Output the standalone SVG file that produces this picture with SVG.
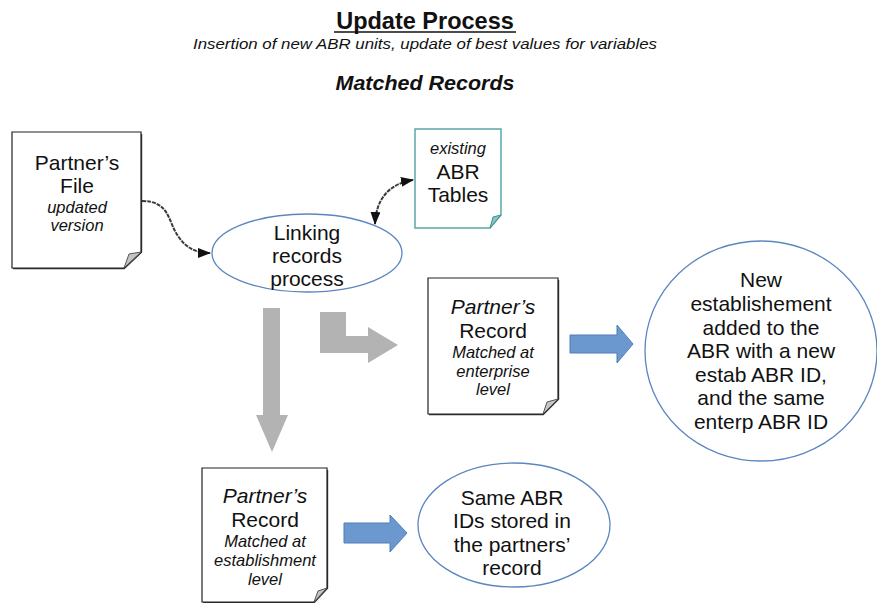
<svg xmlns="http://www.w3.org/2000/svg" width="877" height="603" viewBox="0 0 877 603">
  <defs>
    <marker id="ah" markerWidth="13" markerHeight="10" refX="12" refY="5" orient="auto" markerUnits="userSpaceOnUse">
      <path d="M0,0 L13,5 L0,10 Z" fill="#111"/>
    </marker>
    <marker id="ahs" markerWidth="13" markerHeight="10" refX="1" refY="5" orient="auto" markerUnits="userSpaceOnUse">
      <path d="M13,0 L0,5 L13,10 Z" fill="#111"/>
    </marker>
  </defs>
  <style>
    text { font-family: "Liberation Sans", Arial, sans-serif; fill: #111; text-anchor: middle; }
    .t20 { font-size: 21px; }
    .t15 { font-size: 16.5px; font-style: italic; }
    .it { font-style: italic; }
    .doc { fill: #fff; stroke: #222; stroke-width: 1.2; }
    .docsh { fill: none; stroke: #333; stroke-width: 2.4; }
    .fold { fill: #c4c4c4; stroke: #555; stroke-width: 1; }
    .tdoc { fill: #fff; stroke: #5aa7a7; stroke-width: 1.5; }
    .tfold { fill: #8cc4c4; stroke: #3d8f8f; stroke-width: 1; }
    .ell { fill: #fff; stroke: #5b86c0; stroke-width: 1.3; }
    .grey { fill: #b3b3b3; }
    .blue { fill: #6b99cf; stroke: #4f7fb8; stroke-width: 1; }
    .link { fill: none; stroke: #3a3a3a; stroke-width: 2; stroke-dasharray: 4 1; }
  </style>

  <!-- headings -->
  <g id="title">
    <text x="425" y="29" style="font-size:23.5px;font-weight:bold">Update Process</text>
    <line x1="334" y1="32" x2="516" y2="32" stroke="#111" stroke-width="1.5"/>
    <text x="425" y="49" style="font-size:15.5px;font-style:italic" textLength="464" lengthAdjust="spacingAndGlyphs">Insertion of new ABR units, update of best values for variables</text>
    <text x="425" y="90" style="font-size:21px;font-weight:bold;font-style:italic" textLength="179" lengthAdjust="spacingAndGlyphs">Matched Records</text>
  </g>

  <!-- connectors -->
  <g id="connectors">
    <path class="link" d="M142,201 C170,201 168,222 178,236 C186,248 196,253 210,253" marker-end="url(#ah)"/>
    <path class="link" d="M375,224 C376,200 388,184 413,180" marker-start="url(#ahs)" marker-end="url(#ah)"/>
    <!-- straight grey arrow down -->
    <path class="grey" d="M263,308 H280 V415 H288 L272,452 L256,415 H263 Z"/>
    <!-- bent grey arrow -->
    <path class="grey" d="M320,312 H346 V336 H368 V327 L398,345 L368,363 V353 H320 Z"/>
    <!-- blue arrows -->
    <path class="blue" d="M570,335 H617 V325 L633,344 L617,363 V353 H570 Z"/>
    <path class="blue" d="M344,523 H390 V515 L407,533 L390,552 V543 H344 Z"/>
  </g>

  <!-- Partner's File -->
  <g id="partners-file">
    <path class="docsh" d="M141,134 V252 L124,268 H13"/>
    <path class="doc" d="M12,132 H141 V252 L124,268 H12 Z"/>
    <path class="fold" d="M141,252 L124,268 L129,254 Z"/>
    <text class="t20" x="77" y="170">Partner’s</text>
    <text class="t20" x="77" y="193">File</text>
    <text class="t15" x="77" y="213">updated</text>
    <text class="t15" x="77" y="231">version</text>
  </g>

  <!-- Linking records process -->
  <g id="linking-process">
    <ellipse class="ell" cx="307" cy="253" rx="95" ry="39"/>
    <text class="t20" x="307" y="240">Linking</text>
    <text class="t20" x="307" y="263">records</text>
    <text class="t20" x="307" y="286">process</text>
  </g>

  <!-- existing ABR Tables -->
  <g id="abr-tables">
    <path class="tdoc" d="M415,129 H501 V215 L490,228 H415 Z"/>
    <path class="tfold" d="M501,215 L490,228 L493,217 Z"/>
    <text class="t15" x="458" y="154">existing</text>
    <text class="t20" x="458" y="179">ABR</text>
    <text class="t20" x="458" y="202">Tables</text>
  </g>

  <!-- Partner's Record, enterprise level -->
  <g id="record-enterprise">
    <path class="docsh" d="M558,280 V399 L543,414 H429"/>
    <path class="doc" d="M428,278 H558 V399 L543,414 H428 Z"/>
    <path class="fold" d="M558,399 L543,414 L547,402 Z"/>
    <text class="t20 it" x="493" y="314">Partner’s</text>
    <text class="t20" x="493" y="338">Record</text>
    <text class="t15" x="493" y="358">Matched at</text>
    <text class="t15" x="493" y="377">enterprise</text>
    <text class="t15" x="493" y="395">level</text>
  </g>

  <!-- New establishment result -->
  <g id="new-establishment">
    <ellipse class="ell" cx="761" cy="351" rx="116" ry="110"/>
    <text class="t20" x="761" y="287">New</text>
    <text class="t20" x="761" y="311">establishement</text>
    <text class="t20" x="761" y="335">added to the</text>
    <text class="t20" x="761" y="358">ABR with a new</text>
    <text class="t20" x="761" y="382">estab ABR ID,</text>
    <text class="t20" x="761" y="405">and the same</text>
    <text class="t20" x="761" y="429">enterp ABR ID</text>
  </g>

  <!-- Partner's Record, establishment level -->
  <g id="record-establishment">
    <path class="docsh" d="M327,470 V588 L314,602 H203"/>
    <path class="doc" d="M202,468 H327 V588 L314,602 H202 Z"/>
    <path class="fold" d="M327,588 L314,602 L318,591 Z"/>
    <text class="t20 it" x="265" y="503">Partner’s</text>
    <text class="t20" x="265" y="527">Record</text>
    <text class="t15" x="265" y="547">Matched at</text>
    <text class="t15" x="265" y="566">establishment</text>
    <text class="t15" x="265" y="585">level</text>
  </g>

  <!-- Same IDs result -->
  <g id="same-ids">
    <ellipse class="ell" cx="514" cy="525" rx="96" ry="62"/>
    <text class="t20" x="512" y="505">Same ABR</text>
    <text class="t20" x="512" y="528">IDs stored in</text>
    <text class="t20" x="512" y="552">the partners’</text>
    <text class="t20" x="512" y="575">record</text>
  </g>
</svg>
